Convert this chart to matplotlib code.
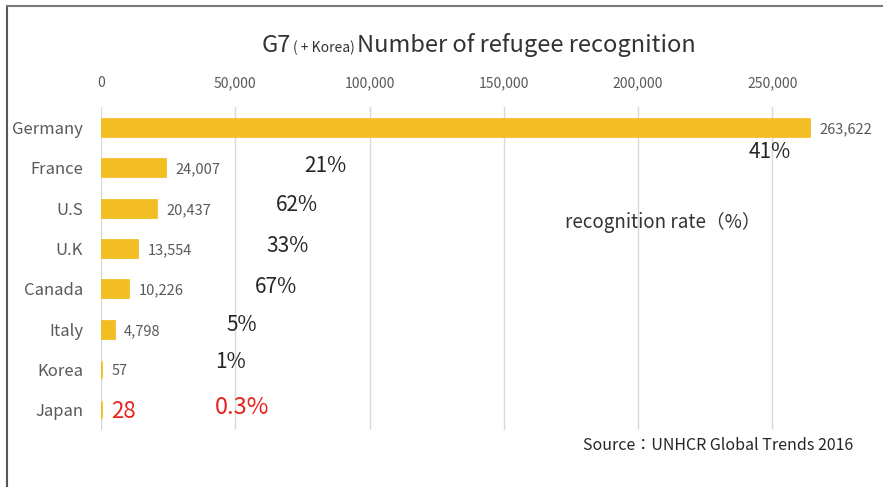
import matplotlib.pyplot as plt
from matplotlib.lines import Line2D
from matplotlib.ticker import FuncFormatter

plt.rcParams['font.family'] = ['Noto Sans CJK JP', 'DejaVu Sans']

countries = ['Germany', 'France', 'U.S', 'U.K', 'Canada', 'Italy', 'Korea', 'Japan']
recognized = [263622, 24007, 20437, 13554, 10226, 4798, 57, 28]
rates = ['41%', '21%', '62%', '33%', '67%', '5%', '1%', '0.3%']
# where the rate labels sit (x in data units, y offset in rows)
rate_x = [249000, 83500, 73000, 69300, 65200, 52500, 48400, 52500]
rate_dy = [0.62, -0.05, -0.07, -0.05, -0.05, -0.1, -0.18, -0.07]
xticks = [0, 50000, 100000, 150000, 200000, 250000]

bar_color = '#F2BE23'
gray = '#595959'
red = '#E8231D'

fig = plt.figure(figsize=(8.83, 4.87), dpi=100)
ax = fig.add_axes([0.1144, 0.117, 0.821, 0.663])

y = list(range(len(countries)))
ax.barh(y, recognized, height=0.42, color=bar_color, edgecolor=bar_color, linewidth=2, zorder=2)

ax.set_xlim(0, 270000)
ax.set_ylim(len(countries) - 0.5, -0.5)
ax.set_xticks(xticks)
ax.xaxis.set_major_formatter(FuncFormatter(lambda v, p: f'{int(v):,}'))
ax.xaxis.tick_top()
ax.tick_params(axis='x', length=0, pad=12, labelsize=10, labelcolor=gray)
ax.tick_params(axis='y', length=0, pad=13, labelsize=12, labelcolor=gray)
ax.set_yticks(y)
ax.set_yticklabels(countries)
ax.grid(axis='x', color='#D9D9D9', linewidth=1, zorder=0)
for s in ax.spines.values():
    s.set_visible(False)

for i, v in enumerate(recognized):
    if countries[i] == 'Japan':
        ax.text(v + 3800, i + 0.05, f'{v:,}', color=red, fontsize=16, va='center', ha='left')
    else:
        ax.text(v + 3800, i + 0.05, f'{v:,}', color=gray, fontsize=10.5, va='center', ha='left')

for i, r in enumerate(rates):
    c = red if countries[i] == 'Japan' else '#262626'
    fs = 17 if countries[i] == 'Japan' else 15
    ax.text(rate_x[i], i + rate_dy[i], r, color=c, fontsize=fs, ha='center', va='center')

# title in three pieces, laid out one after another
renderer = fig.canvas.get_renderer()
parts = [('G7', 17), ('( + Korea)', 10), ('Number of refugee recognition', 17)]
x = 262 / 883
for txt, fs in parts:
    t = fig.text(x, 0.893, txt, fontsize=fs, color='#333333', ha='left', va='baseline')
    bb = t.get_window_extent(renderer)
    x = bb.x1 / fig.bbox.width + 0.002

fig.text(0.751, 0.544, 'recognition rate（%）', fontsize=13.5, color='#333333', ha='center', va='center')
fig.text(0.966, 0.086, 'Source：UNHCR Global Trends 2016', fontsize=11.5, color='#262626',
         ha='right', va='center')

# frame lines on the left and top of the picture
fig.add_artist(Line2D([0.008, 0.008], [0, 0.987], transform=fig.transFigure, color='#555555', lw=1.5))
fig.add_artist(Line2D([0.008, 1.0], [0.987, 0.987], transform=fig.transFigure, color='#777777', lw=1.5))

fig.savefig('out.png', dpi=100)
